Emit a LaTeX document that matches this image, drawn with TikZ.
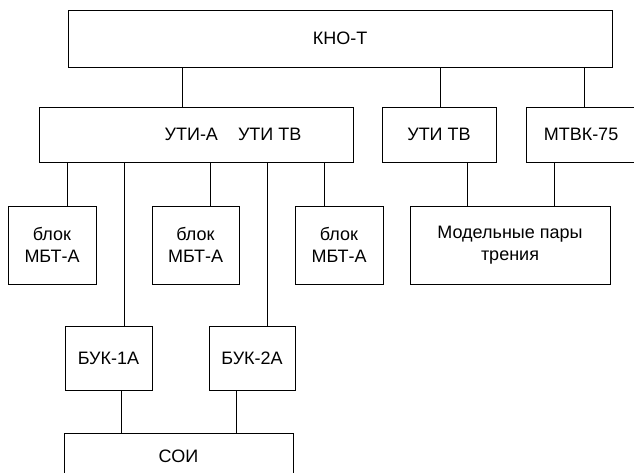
\documentclass[tikz,border=0pt]{standalone}
\usepackage{fontspec}
\setmainfont{Liberation Sans}

\begin{document}
\begin{tikzpicture}[x=1pt, y=-1pt, line width=0.8pt,
    font=\fontsize{18}{21.5}\selectfont,
    blk/.style={draw, align=center, inner sep=0pt}]
        \useasboundingbox (0,0) rectangle (634,472);

        % upper levels
        \node [blk, minimum width=544, minimum height=57] (kno)   at (340,38.5)  {КНО-Т};
        \node [blk, minimum width=314, minimum height=55] (uti)   at (196,134.5) {};
        \node (utitext) at (233,134.5) {УТИ-А\hspace{20pt}УТИ ТВ};
        \node [blk, minimum width=114, minimum height=55] (utitv) at (439,134.5) {УТИ ТВ};
        \node [blk, minimum width=110, minimum height=55] (mtvk)  at (581,134.5) {МТВК-75};

        % blocks
        \node [blk, minimum width=88, minimum height=78]  (blok1) at (52,245)    {блок\\МБТ-А};
        \node [blk, minimum width=87, minimum height=78]  (blok2) at (195.5,245) {блок\\МБТ-А};
        \node [blk, minimum width=88, minimum height=78]  (blok3) at (339,245)   {блок\\МБТ-А};
        \node [blk, minimum width=200, minimum height=78] (model) at (510,245)   {Модельные пары\\трения};

        \node [blk, minimum width=87, minimum height=64]  (buk1)  at (108.5,358) {БУК-1А};
        \node [blk, minimum width=86, minimum height=64]  (buk2)  at (252,358)   {БУК-2А};
        \node [blk, minimum width=229, minimum height=46] (soi)   at (178.5,456) {СОИ};

        % links
        \foreach \x/\n in {182/uti, 440/utitv, 584/mtvk}
            \draw (kno.south -| \x,0) -- (\n.north -| \x,0);
        \foreach \x/\n in {67/blok1, 124/buk1, 210/blok2, 267/buk2, 324/blok3}
            \draw (uti.south -| \x,0) -- (\n.north -| \x,0);
        \draw (utitv.south -| 467,0) -- (model.north -| 467,0);
        \draw (mtvk.south -| 554,0)  -- (model.north -| 554,0);
        \draw (buk1.south -| 121,0)  -- (soi.north -| 121,0);
        \draw (buk2.south -| 236,0)  -- (soi.north -| 236,0);
\end{tikzpicture}
\end{document}
